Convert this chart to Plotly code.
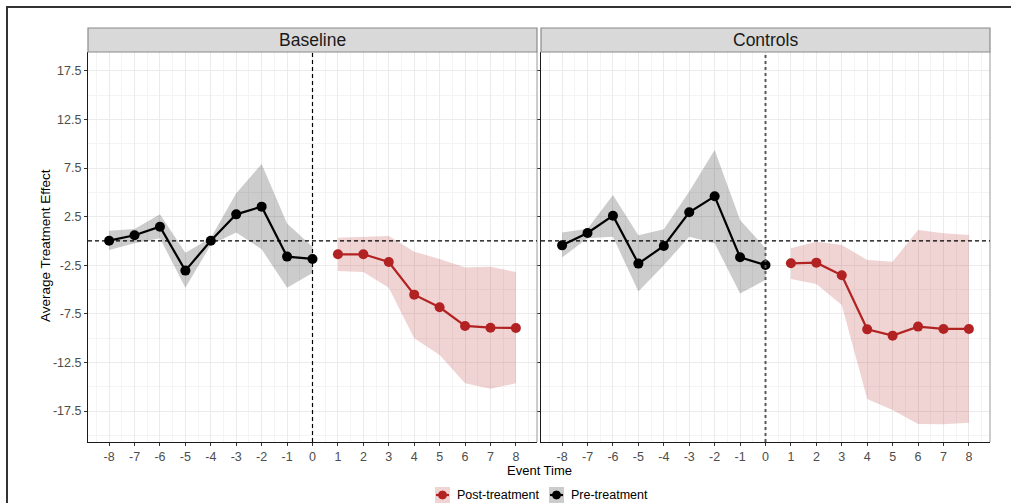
import plotly.graph_objects as go

# ---------------- data ----------------
pre_t = [-8, -7, -6, -5, -4, -3, -2, -1, 0]
post_t = [1, 2, 3, 4, 5, 6, 7, 8]

base_pre = [0.03, 0.59, 1.47, -3.05, 0.03, 2.74, 3.53, -1.61, -1.85]
base_pre_hi = [1.06, 1.23, 2.74, -1.2, 0.3, 4.9, 7.92, 1.8, -0.6]
base_pre_lo = [-0.93, -0.24, 0.28, -4.8, -0.4, 0.86, -0.86, -4.8, -3.3]

base_post = [-1.37, -1.37, -2.16, -5.52, -6.82, -8.74, -8.92, -8.95]
base_post_hi = [0.34, 0.44, 0.51, -1.1, -1.85, -2.74, -2.64, -3.2]
base_post_lo = [-3.09, -3.2, -4.8, -10.0, -11.73, -14.64, -15.2, -14.64]

ctrl_pre = [-0.45, 0.82, 2.6, -2.33, -0.51, 2.95, 4.6, -1.68, -2.47]
ctrl_pre_hi = [0.86, 1.27, 4.73, 0.58, 1.2, 5.1, 9.36, 2.16, -0.75]
ctrl_pre_lo = [-1.7, 0.28, 0.44, -5.2, -2.5, 0.44, -0.24, -5.4, -4.0]

ctrl_post = [-2.3, -2.23, -3.53, -9.09, -9.74, -8.81, -9.05, -9.05]
ctrl_post_hi = [-0.75, -0.07, -0.41, -1.95, -2.13, 1.13, 0.79, 0.62]
ctrl_post_lo = [-3.9, -4.42, -6.58, -16.26, -17.39, -18.83, -18.86, -18.69]

panels = ["Baseline", "Controls"]
legend_labels = ["Post-treatment", "Pre-treatment"]
x_ticks = list(range(-8, 9))
x_labels = [str(v) for v in x_ticks]
y_ticks = [17.5, 12.5, 7.5, 2.5, -2.5, -7.5, -12.5, -17.5]
y_labels = ["17.5", "12.5", "7.5", "2.5", "-2.5", "-7.5", "-12.5", "-17.5"]

RED = "#B22222"
RED_FILL = "rgba(178,34,34,0.2)"
BLK = "#000000"
BLK_FILL = "rgba(0,0,0,0.2)"
FONT = "Liberation Sans, Arial, sans-serif"

fig = go.Figure()

def add_panel(xa, ya, pre, pre_hi, pre_lo, post, post_hi, post_lo):
    fig.add_trace(go.Scatter(x=pre_t + pre_t[::-1], y=pre_hi + pre_lo[::-1],
                             fill="toself", fillcolor=BLK_FILL, line=dict(width=0),
                             mode="lines", hoverinfo="skip", showlegend=False,
                             xaxis=xa, yaxis=ya))
    fig.add_trace(go.Scatter(x=post_t + post_t[::-1], y=post_hi + post_lo[::-1],
                             fill="toself", fillcolor=RED_FILL, line=dict(width=0),
                             mode="lines", hoverinfo="skip", showlegend=False,
                             xaxis=xa, yaxis=ya))
    fig.add_trace(go.Scatter(x=pre_t, y=pre, mode="lines+markers", name="Pre-treatment",
                             line=dict(color=BLK, width=2.2),
                             marker=dict(color=BLK, size=10),
                             showlegend=False, xaxis=xa, yaxis=ya))
    fig.add_trace(go.Scatter(x=post_t, y=post, mode="lines+markers", name="Post-treatment",
                             line=dict(color=RED, width=2.2),
                             marker=dict(color=RED, size=10),
                             showlegend=False, xaxis=xa, yaxis=ya))

add_panel("x", "y", base_pre, base_pre_hi, base_pre_lo, base_post, base_post_hi, base_post_lo)
add_panel("x2", "y2", ctrl_pre, ctrl_pre_hi, ctrl_pre_lo, ctrl_post, ctrl_post_hi, ctrl_post_lo)

XR = [-8.83, 8.83]
YR = [-20.68, 19.44]
W, H = 1011, 503
L, R, T, B = 88, 21, 52, 61
pw = W - L - R
ph = H - T - B
d1 = [0, (537 - L) / pw]
d2 = [(541 - L) / pw, 1]

def px_x(p):
    return (p - L) / pw

def px_y(p):
    return 1 - (p - T) / ph

tickfont = dict(family=FONT, size=12.5, color="#4d4d4d")

def xaxis(domain, anchor):
    return dict(domain=domain, anchor=anchor, range=XR, tickvals=x_ticks, ticktext=x_labels,
                showgrid=True, gridcolor="#ebebeb", gridwidth=1,
                minor=dict(dtick=0.5, tick0=0, showgrid=True, gridcolor="#f4f4f4", gridwidth=0.6),
                zeroline=False, showline=True, linecolor="#1a1a1a", linewidth=1.2, mirror=False,
                ticks="outside", ticklen=3, tickcolor="#333333", tickfont=tickfont)

def yaxis(anchor, labels=True):
    return dict(domain=[0, 1], anchor=anchor, range=YR, tickvals=y_ticks, ticktext=y_labels,
                showticklabels=labels,
                showgrid=True, gridcolor="#ebebeb", gridwidth=1,
                minor=dict(dtick=2.5, tick0=0, showgrid=True, gridcolor="#f4f4f4", gridwidth=0.6),
                zeroline=False, showline=True, linecolor="#1a1a1a", linewidth=1.2, mirror=False,
                ticks="outside", ticklen=3, tickcolor="#333333", tickfont=tickfont)

shapes = []
annotations = []
strip_top = px_y(28)
for i, (name, xd) in enumerate(zip(panels, [d1, d2])):
    xa = "x" if i == 0 else "x2"
    ya = "y" if i == 0 else "y2"
    shapes.append(dict(type="line", xref="paper", yref="paper", x0=xd[1], x1=xd[1], y0=0, y1=1,
                       line=dict(color="#9a9a9a", width=1)))
    shapes.append(dict(type="rect", xref="paper", yref="paper", x0=xd[0], x1=xd[1],
                       y0=1, y1=strip_top, fillcolor="#d9d9d9",
                       line=dict(color="#8a8a8a", width=1.2), layer="above"))
    annotations.append(dict(text=name, xref="paper", yref="paper", x=(xd[0] + xd[1]) / 2,
                            y=(1 + strip_top) / 2, showarrow=False, xanchor="center", yanchor="middle",
                            font=dict(family=FONT, size=17.5, color="#1a1a1a")))
    shapes.append(dict(type="line", xref=xa, yref=ya, x0=XR[0], x1=XR[1], y0=0, y1=0,
                       line=dict(color="black", width=1.2, dash="4px,3px"), layer="above"))
    shapes.append(dict(type="line", xref=xa, yref=ya, x0=0, x1=0, y0=YR[0], y1=YR[1],
                       line=dict(color="black" if i == 0 else "#5a5a5a", width=1.2 if i == 0 else 2,
                                 dash="4px,3px" if i == 0 else "3px,3px"), layer="above"))

# outer frame
shapes.append(dict(type="rect", xref="paper", yref="paper",
                   x0=px_x(7), x1=px_x(1030), y0=px_y(530), y1=px_y(7),
                   line=dict(color="#333333", width=2), fillcolor="rgba(0,0,0,0)"))

# axis titles
annotations.append(dict(text="Event Time", xref="paper", yref="paper", x=px_x(539), y=px_y(470),
                        showarrow=False, xanchor="center", yanchor="middle",
                        font=dict(family=FONT, size=13, color="black")))
annotations.append(dict(text="Average Treatment Effect", xref="paper", yref="paper",
                        x=px_x(45), y=px_y(246), textangle=-90, showarrow=False,
                        xanchor="center", yanchor="middle",
                        font=dict(family=FONT, size=13.5, color="black")))

# manual legend (ggplot-style keys: fill box + line + point)
leg_y = 495
keys = [(435, RED_FILL, RED, legend_labels[0]), (549, BLK_FILL, BLK, legend_labels[1])]
for kx, fillc, col, lab in keys:
    shapes.append(dict(type="rect", xref="paper", yref="paper", x0=px_x(kx), x1=px_x(kx + 15),
                       y0=px_y(leg_y + 8), y1=px_y(leg_y - 8), fillcolor=fillc, line=dict(width=0)))
    shapes.append(dict(type="line", xref="paper", yref="paper", x0=px_x(kx + 1), x1=px_x(kx + 14),
                       y0=px_y(leg_y), y1=px_y(leg_y), line=dict(color=col, width=2.2)))
    shapes.append(dict(type="circle", xref="paper", yref="paper", x0=px_x(kx + 3.5), x1=px_x(kx + 11.5),
                       y0=px_y(leg_y + 4), y1=px_y(leg_y - 4), fillcolor=col, line=dict(color=col, width=1)))
    annotations.append(dict(text=lab, xref="paper", yref="paper", x=px_x(kx + 20), y=px_y(leg_y),
                            showarrow=False, xanchor="left", yanchor="middle",
                            font=dict(family=FONT, size=12.5, color="black")))

fig.update_layout(
    width=W, height=H, margin=dict(l=L, r=R, t=T, b=B, autoexpand=False),
    paper_bgcolor="white", plot_bgcolor="white",
    xaxis=xaxis(d1, "y"), yaxis=yaxis("x"),
    xaxis2=xaxis(d2, "y2"), yaxis2=yaxis("x2", labels=False),
    shapes=shapes, annotations=annotations,
    showlegend=False,
    font=dict(family=FONT),
)

fig.write_html("out.html", config={"displayModeBar": False},
               post_script="document.body.style.margin='0px';")
